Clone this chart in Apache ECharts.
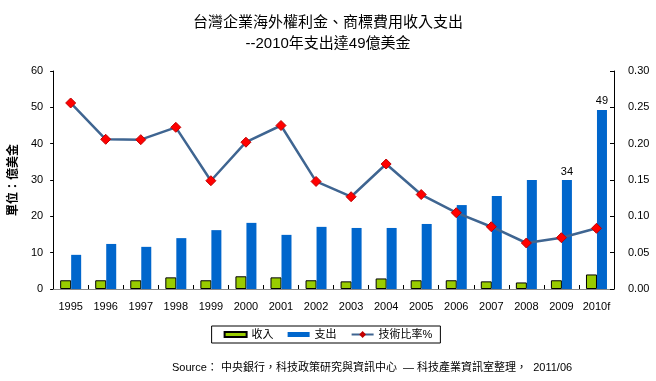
<!DOCTYPE html>
<html><head><meta charset="utf-8">
<script src="https://cdn.jsdelivr.net/npm/echarts@6/dist/echarts.min.js"></script>
<style>html,body{margin:0;padding:0;background:#fff}#c{width:656px;height:381px}</style>
</head><body><div id="c"></div>
<script>
var categories = ['1995','1996','1997','1998','1999','2000','2001','2002','2003','2004','2005','2006','2007','2008','2009','2010f'];
var income = [2.4,2.4,2.4,3.2,2.4,3.5,3.2,2.4,2.1,2.9,2.4,2.4,2.1,1.8,2.4,4.0];
var expense = [9.4,12.4,11.6,14.0,16.2,18.2,14.9,17.1,16.8,16.8,17.9,23.1,25.6,30.0,30.0,49.3];
var expenseLabels = ['','','','','','','','','','','','','','','34','49'];
var ratio = [0.256,0.206,0.2055,0.2225,0.149,0.202,0.225,0.148,0.127,0.172,0.130,0.105,0.0857,0.0633,0.0706,0.0835];
var leftTicks = [0,10,20,30,40,50,60];
var rightTicks = ['0.00','0.05','0.10','0.15','0.20','0.25','0.30'];

var font = 'Arial, "Liberation Sans", "Noto Sans CJK TC", sans-serif';
var chart = echarts.init(document.getElementById('c'));
chart.setOption({
  animation: false,
  textStyle: {fontFamily: font},
  title: {
    text: '台灣企業海外權利金、商標費用收入支出\n--2010年支出達49億美金',
    left: 'center', top: 7,
    textStyle: {fontSize: 15, fontWeight: 'normal', color: '#000', lineHeight: 21, fontFamily: font}
  },
  grid: {left: 52, right: 42, top: 71, bottom: 92},
  legend: {
    bottom: 38, left: 'center',
    itemGap: 14, itemWidth: 22, itemHeight: 5,
    borderColor: '#000', borderWidth: 1, padding: [3, 8, 3, 12],
    textStyle: {fontSize: 11, color: '#000'},
    data: [
      {name: '收入', icon: 'rect'},
      {name: '支出', icon: 'rect'},
      {name: '技術比率%'}
    ]
  },
  graphic: [{
    type: 'text', left: 172, top: 362,
    style: {text: 'Source： 中央銀行，科技政策研究與資訊中心  — 科技產業資訊室整理，  2011/06', fontSize: 11, fill: '#000', fontFamily: font}
  }],
  xAxis: [{
    type: 'category', data: categories, position: 'bottom',
    axisLine: {lineStyle: {color: '#000', width: 1}},
    axisTick: {show: true, inside: true, length: 4, lineStyle: {color: '#000'}},
    axisLabel: {fontSize: 11, color: '#000', margin: 12, interval: 0}
  }, {
    type: 'category', data: categories, position: 'top',
    axisLine: {show: true, lineStyle: {color: '#888', width: 1}},
    axisTick: {show: false}, axisLabel: {show: false}
  }],
  yAxis: [{
    type: 'value', min: 0, max: 60, interval: 10,
    name: '單位：億美金', nameLocation: 'middle', nameGap: 26, nameRotate: 90,
    nameTextStyle: {fontSize: 12, fontWeight: 'bold', color: '#000'},
    axisLine: {show: true, lineStyle: {color: '#000'}},
    axisTick: {show: true, length: 3, lineStyle: {color: '#000'}},
    axisLabel: {fontSize: 11, color: '#000', margin: 10, formatter: function(v){return leftTicks.indexOf(v) >= 0 ? String(v) : '';}},
    splitLine: {show: false}
  }, {
    type: 'value', min: 0, max: 0.3, interval: 0.05, position: 'right',
    axisLine: {show: true, lineStyle: {color: '#000'}},
    axisTick: {show: true, inside: true, length: 4, lineStyle: {color: '#000'}},
    axisLabel: {fontSize: 11, color: '#000', margin: 14, formatter: function(v){return rightTicks[Math.round(v/0.05)];}},
    splitLine: {show: false}
  }],
  series: [{
    name: '收入', type: 'bar', data: income, barWidth: 11, barGap: '0%',
    itemStyle: {color: '#99CC00', borderColor: '#000', borderWidth: 1}
  }, {
    name: '支出', type: 'bar', data: expense, barWidth: 10,
    itemStyle: {color: '#0066CC'},
    label: {show: true, position: 'top', fontSize: 11, color: '#000', distance: 3,
      formatter: function(p){return expenseLabels[p.dataIndex];}}
  }, {
    name: '技術比率%', type: 'line', yAxisIndex: 1, data: ratio,
    lineStyle: {color: '#3F6591', width: 2.5},
    itemStyle: {color: '#FF0000', borderColor: '#C00000', borderWidth: 1},
    symbol: 'diamond', symbolSize: 10, showSymbol: true
  }]
});
</script></body></html>
